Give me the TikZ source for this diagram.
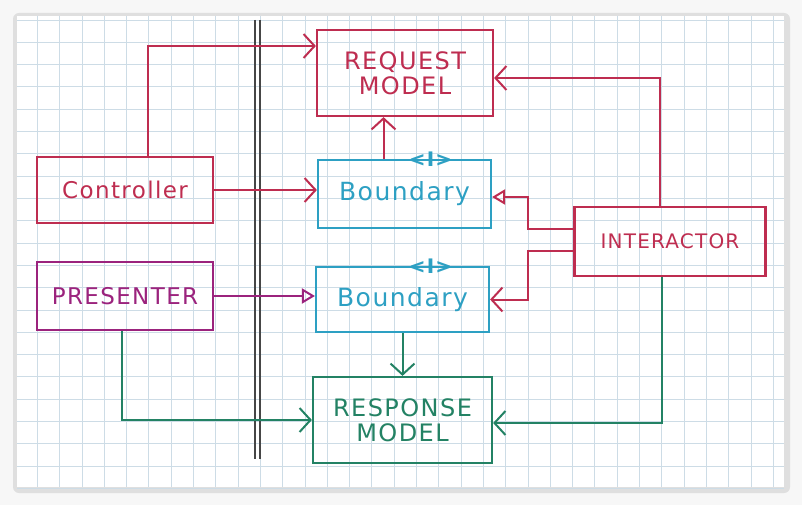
\documentclass[tikz,border=0pt]{standalone}
\usepackage{fontspec}
\setmainfont{DejaVu Sans}[LetterSpace=6]
\usetikzlibrary{arrows.meta,positioning}
\definecolor{penred}{RGB}{190,45,80}
\definecolor{penblue}{RGB}{45,160,195}
\definecolor{pengreen}{RGB}{35,130,100}
\definecolor{penpurple}{RGB}{155,35,125}
\definecolor{gridblue}{RGB}{205,220,230}
\definecolor{wallgray}{RGB}{70,70,70}

\begin{document}
\begin{tikzpicture}[
  x=1pt, y=-1pt,
  box/.style={draw=#1, text=#1, line width=2.2pt, inner sep=0pt, align=center},
  uses/.style={line width=2pt, -{Straight Barb[length=11pt,width=24pt]}},
  impl/.style={line width=2pt, -{Triangle[open,length=13pt,width=15pt]}},
  gridline/.style={gridblue, line width=0.8pt},
  capsfont/.style={font=\fontsize{24}{25}\selectfont},
]
\useasboundingbox (0,0) rectangle (802,505);
% paper with its shadow
\fill[gray!6] (0,0) rectangle (802,505);
\fill[gray!25, rounded corners=6pt] (13,13) rectangle (790,493);
\fill[white] (17,16) rectangle (784,487);
\foreach \gx in {1,...,34}
  \draw[gridline] ({15+22.3*\gx},16) -- ({15+22.3*\gx},487);
\foreach \gy in {0,...,21}
  \draw[gridline] (17,{20+22.3*\gy}) -- (784,{20+22.3*\gy});
% boundary line
\draw[wallgray, line width=1.3pt] (255,20) -- (255,459);
\draw[wallgray, line width=1.3pt] (260,20) -- (260,459);
% boxes
\node[box=penred, capsfont, minimum width=176, minimum height=86]
  (req) at (405,73) {REQUEST\\MODEL};
\node[box=penred, font=\fontsize{23}{24}\selectfont, minimum width=176, minimum height=66]
  (ctrl) at (125,190) {Controller};
\node[box=penblue, font=\fontsize{25}{24}\selectfont, minimum width=173, minimum height=68]
  (bnd1) at (404.5,194) {Boundary};
\node[box=penred, font=\fontsize{20}{24}\selectfont, minimum width=191, minimum height=69]
  (inter) at (670,241.5) {INTERACTOR};
\node[box=penpurple, font=\fontsize{23}{24}\selectfont, minimum width=176, minimum height=68]
  (pres) at (125,296) {PRESENTER};
\node[box=penblue, font=\fontsize{25}{24}\selectfont, minimum width=173, minimum height=65]
  (bnd2) at (402.5,299.5) {Boundary};
\node[box=pengreen, capsfont, minimum width=179, minimum height=86]
  (resp) at (402.5,420) {RESPONSE\\MODEL};
% interface marks
\node[penblue, font=\fontsize{20}{20}\bfseries] (tag1) at ([xshift=26pt]bnd1.north) {<I>};
\node[penblue, font=\fontsize{20}{20}\bfseries] (tag2) at ([xshift=28pt]bnd2.north) {<I>};
% connectors
\draw[uses, penred] ([xshift=23pt]ctrl.north) |- ([yshift=27pt]req.west);
\draw[uses, penred] (ctrl.east) -- (ctrl.east -| bnd1.west);
\draw[uses, penred] ([xshift=-21pt]bnd1.north) -- ([xshift=-21pt]bnd1.north |- req.south);
\draw[uses, penred] ([xshift=-10pt]inter.north) |- ([yshift=-5pt]req.east);
\draw[impl, penred] ([yshift=13pt]inter.west) -- ++(-45,0) |- ([yshift=-3pt]bnd1.east);
\draw[uses, penred] ([yshift=-9pt]inter.west) -- ++(-45,0) |- (bnd2.east);
\draw[impl, penpurple] (pres.east) -- (pres.east -| bnd2.west);
\draw[uses, pengreen] (bnd2.south) -- (bnd2.south |- resp.north);
\draw[uses, pengreen] ([xshift=-3pt]pres.south) |- (resp.west);
\draw[uses, pengreen] ([xshift=-8pt]inter.south) |- ([yshift=-3pt]resp.east);
\end{tikzpicture}
\end{document}
